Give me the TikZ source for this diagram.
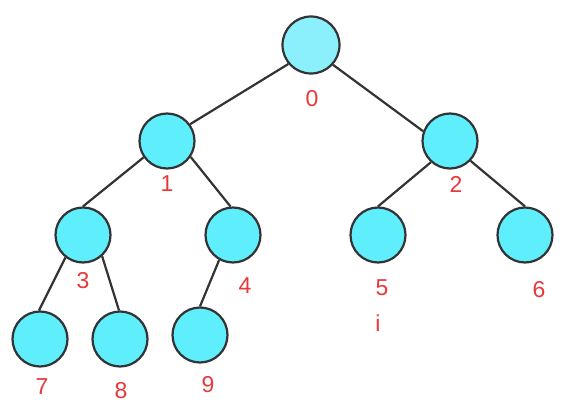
\documentclass[tikz,border=0pt]{standalone}
\usepackage{fontspec}
\setmainfont{Liberation Sans}
\begin{document}
\begin{tikzpicture}[x=1pt,y=-1pt,
  vert/.style={circle,draw=black!80,line width=2.2pt,fill=nodecyan,minimum size=55pt,inner sep=0pt},
  edge/.style={draw=black!80,line width=2.2pt},
  lbl/.style={text=labelred,font=\fontsize{23}{26}\selectfont,inner sep=0pt,anchor=center}]
\definecolor{nodecyan}{HTML}{5EEEFC}
\definecolor{rootcyan}{HTML}{8CF0FC}
\definecolor{labelred}{HTML}{E8383A}
\useasboundingbox (0,0) rectangle (580,414);
\fill[white] (0,0) rectangle (580,414);
% nodes
\node[vert,fill=rootcyan,minimum size=57pt] (n0) at (311,45) {};
\node[vert] (n1) at (167,141) {};
\node[vert] (n2) at (450,141) {};
\node[vert] (n3) at (83,235) {};
\node[vert] (n4) at (233,235) {};
\node[vert] (n5) at (378,235) {};
\node[vert] (n6) at (525,235) {};
\node[vert] (n7) at (40,339) {};
\node[vert] (n8) at (120,339) {};
\node[vert] (n9) at (200,335) {};
% edges
\draw[edge] (n0.220) -- (n1.36);
\draw[edge] (n0.318) -- (n2.160);
\draw[edge] (n1.215) -- (n3.north);
\draw[edge] (n1.326) -- (n4.95);
\draw[edge] (n2.228) -- (n5.north);
\draw[edge] (n2.316) -- (n6.north);
\draw[edge] (n3.232) -- (n7.92);
\draw[edge] (n3.312) -- (n8.92);
\draw[edge] (n4.241) -- (n9.north);
% labels
\node[lbl] (l0) at (312,99) {0};
\node[lbl] (l1) at (167,184) {1};
\node[lbl] (l2) at (456,184) {2};
\node[lbl] (l3) at (83,281) {3};
\node[lbl] (l4) at (245,286) {4};
\node[lbl] (l5) at (382,288) {5};
\node[lbl] (li) at (378,323) {i};
\node[lbl] (l6) at (539,290) {6};
\node[lbl] (l7) at (42,387) {7};
\node[lbl] (l8) at (121,391) {8};
\node[lbl] (l9) at (208,385) {9};
\end{tikzpicture}
\end{document}
